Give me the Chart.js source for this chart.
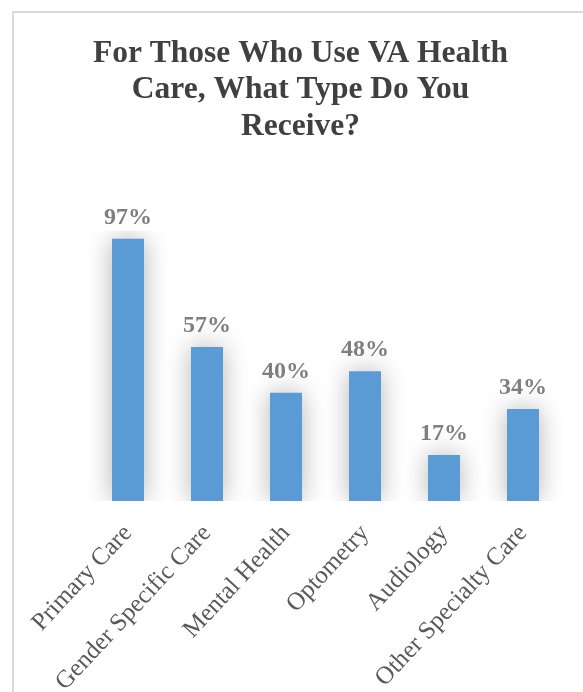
<!DOCTYPE html>
<html>
<head>
<meta charset="utf-8">
<script src="https://cdn.jsdelivr.net/npm/chart.js@4"></script>
<style>
  html, body { margin: 0; padding: 0; background: #fff; overflow: hidden; width: 583px; height: 692px; }
  #frame { position: absolute; left: 12px; top: 11px; width: 600px; height: 700px; border: 2px solid #d9d9d9; box-sizing: border-box; }
  #wrap { position: absolute; left: 13px; top: 12px; width: 575px; height: 680px; }
</style>
</head>
<body>
<div id="frame"></div>
<div id="wrap"><canvas id="chart"></canvas></div>
<script>
const titleLines = ['For Those Who Use VA Health', 'Care, What Type Do You', 'Receive?'];
const careTypes = ['Primary Care', 'Gender Specific Care', 'Mental Health', 'Optometry', 'Audiology', 'Other Specialty Care'];
const percentUsing = [97, 57, 40, 48, 17, 34];

const serif = "'Liberation Serif', 'Times New Roman', serif";

// soft glow behind the bars, like the office chart effect
const glowPlugin = {
    id: 'glow',
    beforeDatasetsDraw: (chart) => {
        const ctx = chart.ctx;
        ctx.save();
        ctx.shadowColor = 'rgba(0,0,0,0.3)';
        ctx.shadowBlur = 26;
        ctx.shadowOffsetX = 0;
        ctx.shadowOffsetY = 0;
    },
    afterDatasetsDraw: (chart) => { chart.ctx.restore(); }
};

// value labels above bars
const valueLabels = {
    id: 'valueLabels',
    afterDatasetsDraw: (chart) => {
        const ctx = chart.ctx;
        const meta = chart.getDatasetMeta(0);
        ctx.save();
        ctx.font = 'bold 24px ' + serif;
        ctx.fillStyle = '#7f7f7f';
        ctx.textAlign = 'center';
        ctx.textBaseline = 'alphabetic';
        meta.data.forEach((bar, i) => {
            ctx.fillText(percentUsing[i] + '%', bar.x, bar.y - 15);
        });
        ctx.restore();
    }
};

new Chart(document.getElementById('chart'), {
    type: 'bar',
    data: {
        labels: careTypes,
        datasets: [{ data: percentUsing, backgroundColor: '#5b9bd5', barPercentage: 0.405, categoryPercentage: 1 }]
    },
    options: {
        responsive: true, maintainAspectRatio: false, animation: false,
        layout: { padding: 0 },
        plugins: {
            legend: { display: false },
            tooltip: { enabled: false },
            title: {
                display: true, text: titleLines, color: '#404040',
                font: { family: serif, size: 31.5, weight: 'bold', lineHeight: 1.15 },
                padding: { top: 24, bottom: 86 }
            }
        },
        scales: {
            y: { display: false, min: 0, max: 100 },
            x: {
                grid: { display: false }, border: { display: false },
                ticks: { color: '#595959', font: { family: serif, size: 25 }, minRotation: 47, maxRotation: 47, padding: 10 },
                afterFit: (scale) => { scale.height = 191; scale.paddingLeft = 75.5; scale.paddingRight = 25.5; }
            }
        }
    },
    plugins: [glowPlugin, valueLabels]
});
</script>
</body>
</html>
